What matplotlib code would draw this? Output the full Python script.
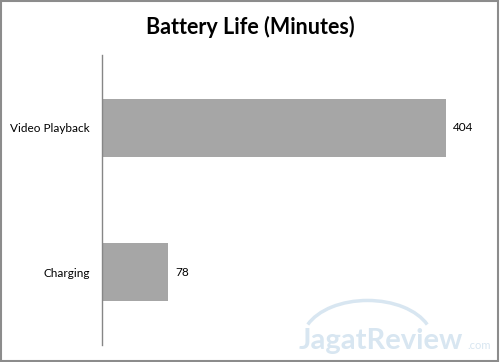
"""Battery life bar chart."""

import matplotlib
matplotlib.use('Agg')
import matplotlib.pyplot as plt
from matplotlib.patches import Rectangle, Arc

categories = ['Charging', 'Video Playback']
minutes = [78, 404]
title = 'Battery Life (Minutes)'

plt.rcParams['font.family'] = ['Lato', 'DejaVu Sans']

fig = plt.figure(figsize=(5.0, 3.62), dpi=100)
ax = fig.add_axes([0.204, 0.047, 0.766, 0.801])

# Bars.
pos = list(range(len(categories)))
ax.barh(pos, minutes, height=0.4, color='#a6a6a6', edgecolor='none')
for y, v in zip(pos, minutes):
  ax.text(v + 8, y, str(v), va='center', ha='left', fontsize=8.5,
          color='black')

# Axes.
ax.set_xlim(0, 450)
ax.set_ylim(-0.5, 1.5)
ax.set_yticks(pos)
ax.set_yticklabels(categories, fontsize=8.5)
ax.tick_params(axis='y', length=0, pad=9)
ax.set_xticks([])
for side in ['top', 'right', 'bottom']:
  ax.spines[side].set_visible(False)
ax.spines['left'].set_color('#868686')
ax.spines['left'].set_linewidth(1.0)

# Title.
fig.text(0.5, 0.925, title, ha='center', va='center', fontsize=15.5,
         fontweight='bold')

# Watermark.
wm = '#d8e6f1'
fig.text(0.598, 0.035, 'JagatReview', ha='left', va='baseline',
         fontsize=21, fontweight='bold', color=wm)
fig.text(0.935, 0.035, '.com', ha='left', va='baseline', fontsize=8,
         color=wm)
fig.patches.append(Arc((0.735, 0.06), 0.26, 0.22, theta1=20, theta2=160,
                       transform=fig.transFigure, color=wm, linewidth=2.5))

# Image border.
fig.patches.append(Rectangle((0.002, 0.003), 0.994, 0.994,
                             transform=fig.transFigure, fill=False,
                             edgecolor='#8c8c8c', linewidth=1.5))

fig.savefig('out.png', dpi=100)
